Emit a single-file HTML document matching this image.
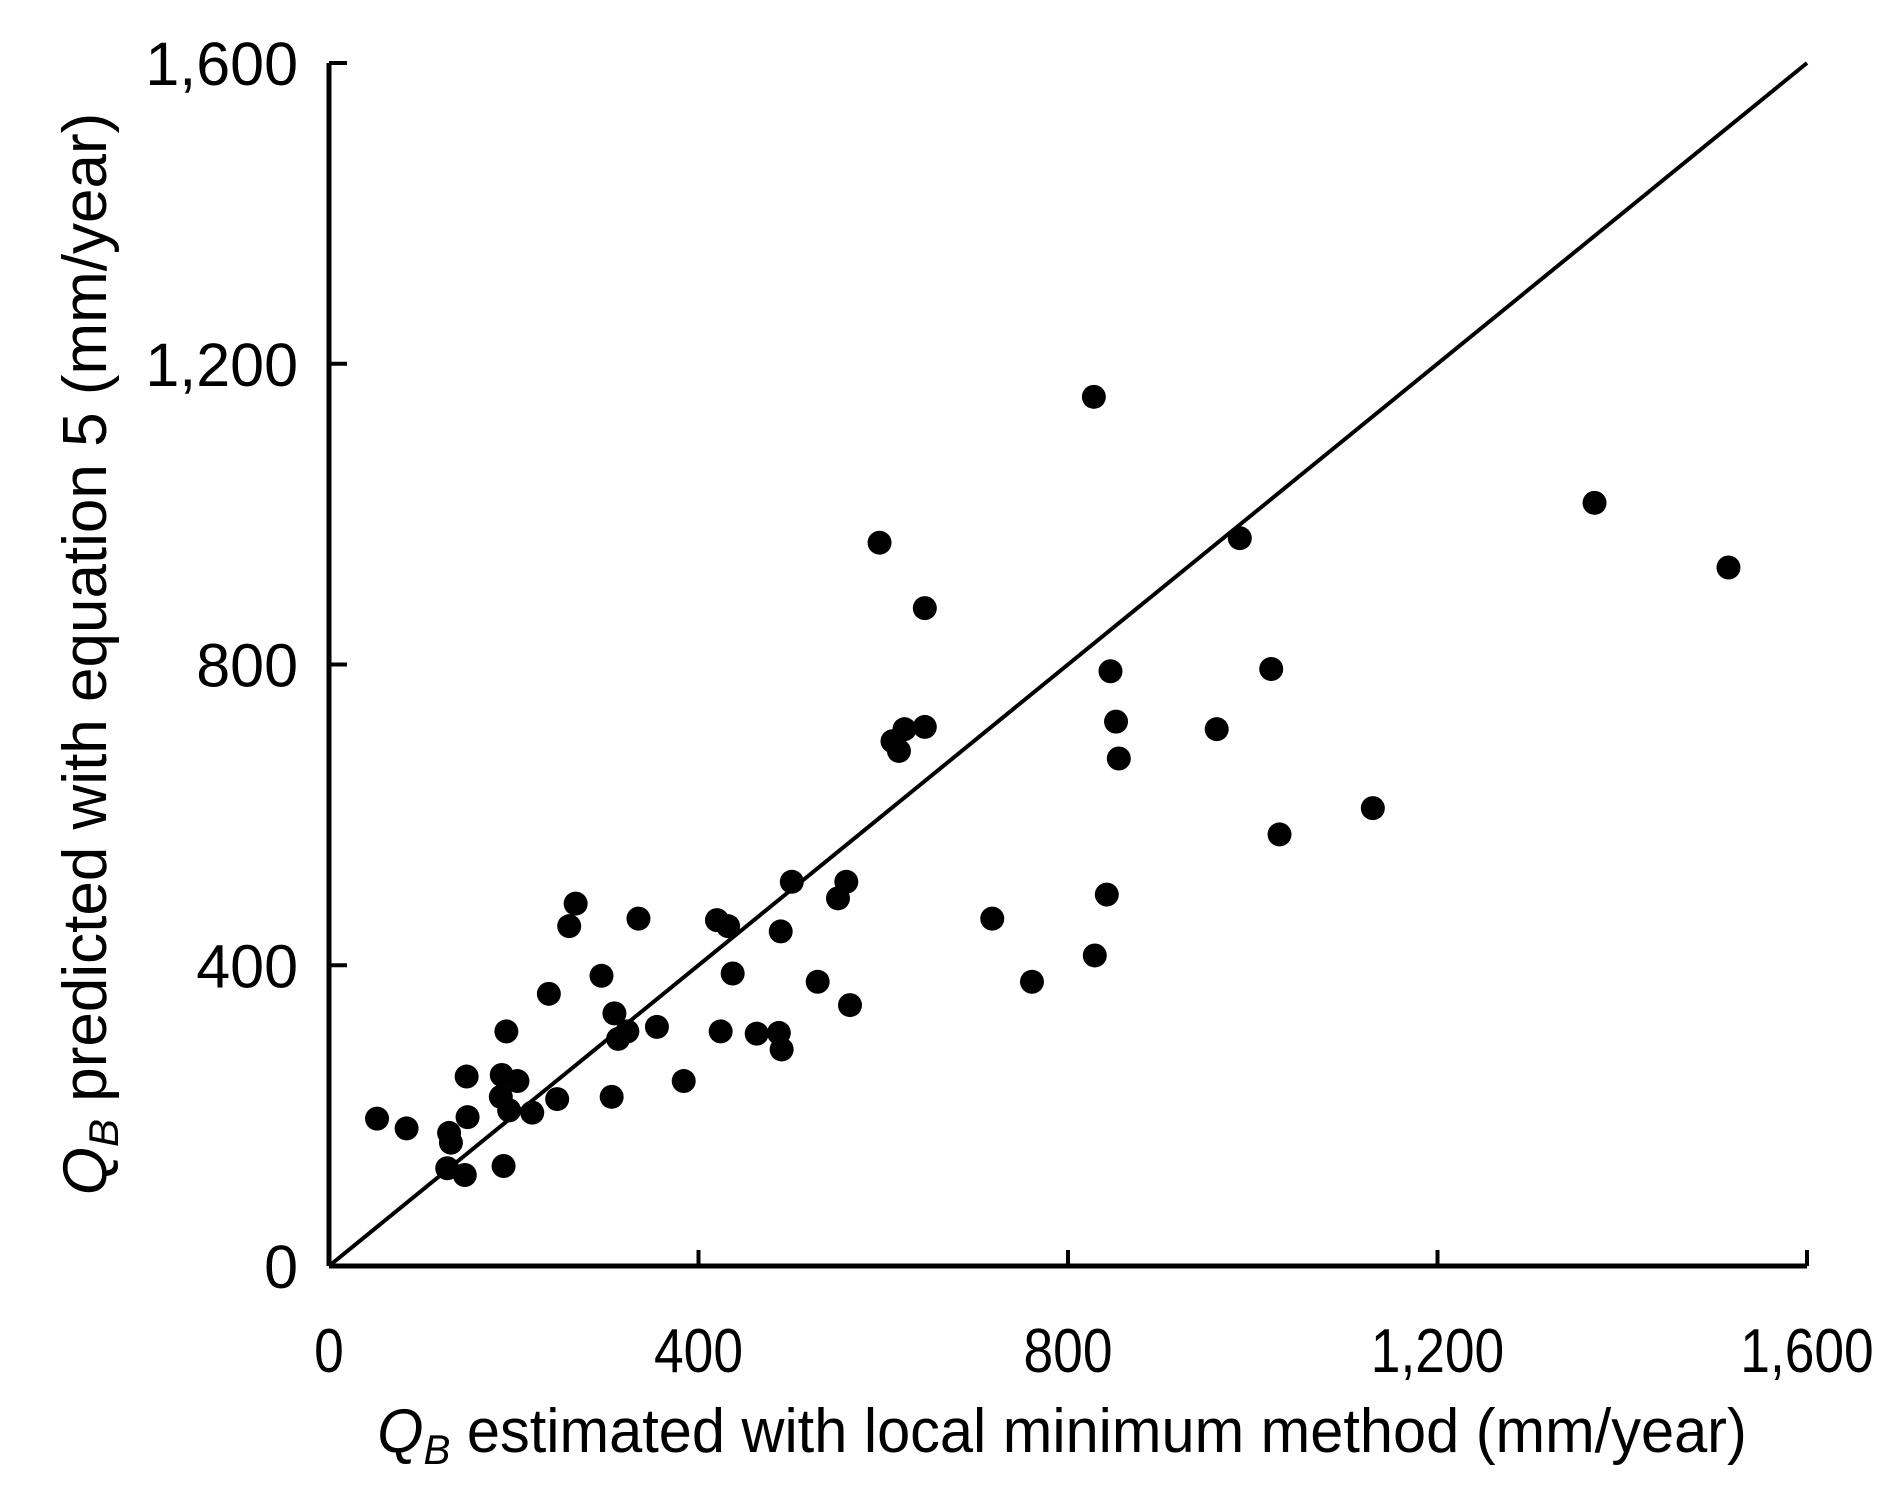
<!DOCTYPE html>
<html><head><meta charset="utf-8"><style>
html,body{margin:0;padding:0;background:#fff;}
svg text{font-family:"Liberation Sans",sans-serif;fill:#000;}
</style></head><body>
<svg id="chart" width="1899" height="1493" viewBox="0 0 1899 1493" xmlns="http://www.w3.org/2000/svg">
<g id="axes"></g>
<g id="points"></g>
<g transform="translate(1062,1452) scale(0.96,1)">
<text x="0" y="0" font-size="62" text-anchor="middle"><tspan font-style="italic">Q</tspan><tspan font-style="italic" font-size="42" dy="12">B</tspan><tspan dy="-12"> estimated with local minimum method (mm/year)</tspan></text>
</g>
<text transform="translate(106,654) rotate(-90)" font-size="62" text-anchor="middle"><tspan font-style="italic">Q</tspan><tspan font-style="italic" font-size="42" dy="12">B</tspan><tspan dy="-12"> predicted with equation 5 (mm/year)</tspan></text>
</svg>
<script>
const xValues=[52,84,130,132,128,147,149,150,189,192,187,186,195,204,220,238,247,260,267,295,306,309,313,323,335,355,384,420,432,424,437,463,487,490,489,501,529,551,560,564,596,610,617,623,645,645,718,761,828,829,842,846,852,855,961,986,1020,1029,1130,1370,1515];
const yValues=[196,183,177,164,130,121,252,198,133,312,254,225,207,246,204,362,222,452,482,386,225,336,302,312,462,318,246,460,452,312,389,309,310,288,445,511,378,489,511,347,962,698,685,714,717,875,462,378,1156,413,494,791,724,675,714,968,794,574,609,1015,929];
const xTicks=[0,400,800,1200,1600];
const yTicks=[0,400,800,1200,1600];
const tickLabels=["0","400","800","1,200","1,600"];
const NS="http://www.w3.org/2000/svg";
function sx(v){return 329+v*(1807-329)/1600;}
function sy(v){return 1266-v*(1266-63)/1600;}
function mk(tag,attrs,parent){const e=document.createElementNS(NS,tag);for(const k in attrs)e.setAttribute(k,attrs[k]);parent.appendChild(e);return e;}
const ax=document.getElementById('axes');
let e=mk('line',{x1:sx(0),y1:sy(0),x2:sx(1600),y2:sy(0),stroke:'#000','stroke-width':5},ax);


e=mk('line',{x1:sx(0),y1:sy(0),x2:sx(0),y2:sy(1600),stroke:'#000','stroke-width':5},ax);


xTicks.forEach((t,i)=>{
 let l=mk('line',{x1:sx(t),y1:sy(0),x2:sx(t),y2:sy(0)-16,stroke:'#000','stroke-width':4},ax);
 
 
 let g=mk('g',{transform:'translate('+sx(t)+',1372) scale(0.86,1)'},ax);
 let tx=mk('text',{x:0,y:0,'font-size':62,'text-anchor':'middle'},g);
 tx.textContent=tickLabels[i];
 
 
});
yTicks.forEach((t,i)=>{
 let l=mk('line',{x1:sx(0),y1:sy(t),x2:sx(0)+18,y2:sy(t),stroke:'#000','stroke-width':4},ax);
 
 
 let tx=mk('text',{x:298,y:sy(t)+22,'font-size':61,'text-anchor':'end'},ax);
 tx.textContent=tickLabels[i];
 
 
});
e=mk('line',{x1:sx(0),y1:sy(0),x2:sx(1600),y2:sy(1600),stroke:'#000','stroke-width':4},ax);


const pg=document.getElementById('points');
xValues.forEach((v,i)=>{
 let c=mk('circle',{cx:sx(v),cy:sy(yValues[i]),r:12,fill:'#000'},pg);
 
 
});
</script>
</body></html>
